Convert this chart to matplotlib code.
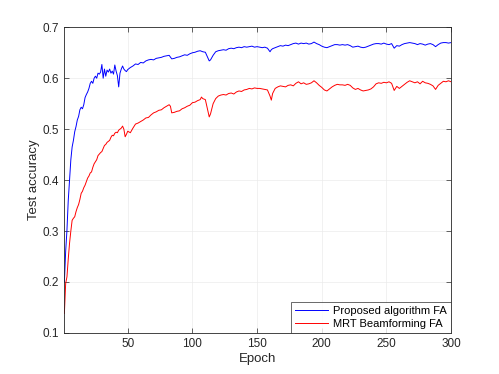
import matplotlib
matplotlib.use("Agg")
import matplotlib.pyplot as plt

# values (epoch, test accuracy)
blue_epochs = [1, 2, 3, 4, 5, 6, 7, 8, 9, 10, 11, 12, 13, 14, 15, 16, 17, 18, 19, 20,
               21, 22, 23, 24, 25, 26, 27, 28, 29, 30, 31, 32, 33, 34, 35, 36, 37, 38, 39, 40,
               41, 42, 43, 44, 45, 46, 47, 48, 49, 50, 52, 54, 56, 58, 60, 62, 64, 66, 68, 70,
               72, 74, 76, 78, 80, 82, 84, 86, 88, 90, 92, 94, 96, 98, 100, 102, 104, 106, 108, 110,
               112, 113, 114, 116, 118, 120, 122, 124, 126, 128, 130, 132, 134, 136, 138, 140, 142, 144, 146, 148,
               150, 152, 154, 156, 158, 160, 161, 162, 164, 166, 168, 170, 172, 174, 176, 178, 180, 182, 184, 186,
               188, 190, 192, 194, 196, 198, 200, 202, 204, 206, 208, 210, 212, 214, 216, 218, 220, 222, 224, 226,
               228, 230, 232, 234, 236, 238, 240, 242, 244, 246, 248, 250, 252, 254, 256, 258, 260, 262, 264, 266,
               268, 270, 272, 274, 276, 278, 280, 282, 284, 286, 288, 290, 292, 294, 296, 298, 300]
blue_acc = [0.200, 0.260, 0.302, 0.360, 0.400, 0.440, 0.465, 0.478, 0.495, 0.505, 0.518, 0.525, 0.538, 0.543, 0.540, 0.548, 0.562, 0.568, 0.573, 0.580,
            0.590, 0.594, 0.590, 0.600, 0.604, 0.600, 0.610, 0.608, 0.612, 0.627, 0.600, 0.618, 0.604, 0.616, 0.612, 0.618, 0.610, 0.614, 0.608, 0.626,
            0.614, 0.605, 0.583, 0.610, 0.618, 0.624, 0.618, 0.615, 0.613, 0.617, 0.621, 0.624, 0.628, 0.627, 0.631, 0.630, 0.634, 0.636, 0.637, 0.636,
            0.639, 0.640, 0.641, 0.643, 0.644, 0.645, 0.638, 0.639, 0.641, 0.642, 0.644, 0.646, 0.645, 0.648, 0.650, 0.651, 0.653, 0.654, 0.652, 0.651,
            0.640, 0.634, 0.636, 0.645, 0.652, 0.654, 0.655, 0.656, 0.655, 0.658, 0.659, 0.658, 0.660, 0.661, 0.660, 0.662, 0.661, 0.662, 0.663, 0.661,
            0.662, 0.661, 0.660, 0.661, 0.659, 0.652, 0.656, 0.658, 0.660, 0.662, 0.664, 0.663, 0.665, 0.664, 0.666, 0.668, 0.669, 0.667, 0.669, 0.668,
            0.669, 0.667, 0.668, 0.671, 0.668, 0.666, 0.663, 0.661, 0.660, 0.662, 0.664, 0.666, 0.666, 0.665, 0.666, 0.665, 0.666, 0.664, 0.661, 0.662,
            0.663, 0.661, 0.660, 0.661, 0.663, 0.665, 0.667, 0.668, 0.668, 0.667, 0.669, 0.667, 0.666, 0.668, 0.659, 0.664, 0.663, 0.666, 0.668, 0.669,
            0.670, 0.669, 0.668, 0.666, 0.668, 0.667, 0.665, 0.667, 0.668, 0.666, 0.662, 0.666, 0.669, 0.670, 0.670, 0.669, 0.670]

red_epochs = [1, 2, 3, 4, 5, 6, 7, 8, 9, 10, 11, 12, 13, 14, 15, 16, 17, 18, 19, 20,
              21, 22, 23, 24, 25, 26, 27, 28, 29, 30, 31, 32, 33, 34, 35, 36, 37, 38, 39, 40,
              41, 42, 43, 44, 45, 46, 47, 48, 49, 50, 52, 54, 56, 58, 60, 62, 64, 66, 68, 70,
              72, 74, 76, 78, 80, 82, 83, 84, 86, 88, 90, 92, 94, 96, 98, 100, 102, 104, 106, 107,
              108, 110, 112, 113, 114, 116, 118, 120, 122, 124, 126, 128, 130, 132, 134, 136, 138, 140, 142, 144,
              146, 148, 150, 152, 154, 156, 158, 160, 161, 162, 164, 166, 168, 170, 172, 174, 176, 178, 180, 182,
              184, 186, 188, 190, 192, 194, 196, 198, 200, 202, 204, 206, 208, 210, 212, 214, 216, 218, 220, 222,
              224, 226, 228, 230, 232, 234, 236, 238, 240, 242, 244, 246, 248, 250, 252, 254, 256, 258, 260, 262,
              264, 266, 268, 270, 272, 274, 276, 278, 280, 282, 284, 286, 288, 290, 292, 294, 296, 298, 300]
red_acc = [0.138, 0.197, 0.210, 0.245, 0.276, 0.300, 0.321, 0.325, 0.328, 0.338, 0.346, 0.352, 0.362, 0.374, 0.378, 0.385, 0.390, 0.397, 0.404, 0.408,
           0.414, 0.416, 0.425, 0.432, 0.436, 0.440, 0.448, 0.451, 0.454, 0.456, 0.462, 0.468, 0.470, 0.474, 0.476, 0.478, 0.484, 0.488, 0.487, 0.492,
           0.494, 0.493, 0.498, 0.500, 0.502, 0.506, 0.500, 0.485, 0.490, 0.496, 0.493, 0.502, 0.510, 0.512, 0.515, 0.518, 0.522, 0.523, 0.528, 0.532,
           0.534, 0.537, 0.538, 0.542, 0.545, 0.548, 0.545, 0.532, 0.533, 0.535, 0.536, 0.540, 0.542, 0.545, 0.547, 0.552, 0.553, 0.556, 0.558, 0.563,
           0.560, 0.558, 0.535, 0.524, 0.530, 0.550, 0.560, 0.565, 0.567, 0.568, 0.567, 0.570, 0.571, 0.569, 0.573, 0.575, 0.574, 0.577, 0.578, 0.580,
           0.579, 0.581, 0.580, 0.580, 0.579, 0.578, 0.577, 0.565, 0.557, 0.570, 0.580, 0.583, 0.585, 0.584, 0.583, 0.586, 0.587, 0.585, 0.590, 0.593,
           0.589, 0.591, 0.588, 0.589, 0.591, 0.595, 0.591, 0.586, 0.582, 0.577, 0.575, 0.579, 0.583, 0.586, 0.588, 0.587, 0.587, 0.586, 0.588, 0.586,
           0.581, 0.578, 0.580, 0.577, 0.575, 0.576, 0.577, 0.579, 0.583, 0.589, 0.591, 0.590, 0.592, 0.591, 0.593, 0.590, 0.576, 0.584, 0.580, 0.584,
           0.588, 0.592, 0.595, 0.593, 0.591, 0.593, 0.589, 0.594, 0.591, 0.590, 0.588, 0.585, 0.578, 0.586, 0.590, 0.594, 0.593, 0.595, 0.593]

series_labels = ["Proposed algorithm FA", "MRT Beamforming FA"]
x_ticks = [50, 100, 150, 200, 250, 300]
y_ticks = [0.1, 0.2, 0.3, 0.4, 0.5, 0.6, 0.7]

plt.rcParams['font.family'] = ['Liberation Sans', 'DejaVu Sans']
axis_gray = '#262626'

fig = plt.figure(figsize=(4.99, 3.74), dpi=100)
ax = fig.add_axes([0.129, 0.110, 0.775, 0.817])

ax.plot(blue_epochs, blue_acc, color='#0000ff', linewidth=0.7, label=series_labels[0])
ax.plot(red_epochs, red_acc, color='#ff0000', linewidth=0.7, label=series_labels[1])

ax.set_xlim(1, 300)
ax.set_ylim(0.1, 0.7)
ax.set_xticks(x_ticks)
ax.set_yticks(y_ticks)
ax.set_yticklabels([f"{t:g}" for t in y_ticks])

ax.grid(True, color='#ebebeb', linewidth=0.5)
ax.tick_params(direction='in', length=3.5, width=0.5, top=True, right=True,
               labelsize=8.5, colors=axis_gray, pad=4)
for sp in ax.spines.values():
    sp.set_color(axis_gray)
    sp.set_linewidth(0.6)

ax.set_xlabel('Epoch', fontsize=9.5, color=axis_gray, labelpad=2)
ax.set_ylabel('Test accuracy', fontsize=9.5, color=axis_gray, labelpad=2)

leg = ax.legend(loc='lower right', fontsize=8, frameon=True, fancybox=False,
                borderaxespad=0, handlelength=3.0, handletextpad=0.5,
                labelspacing=0.3, borderpad=0.35)
leg.get_frame().set_edgecolor(axis_gray)
leg.get_frame().set_linewidth(0.6)
for t in leg.get_texts():
    t.set_color('#000000')

fig.savefig('out.png', dpi=100)
